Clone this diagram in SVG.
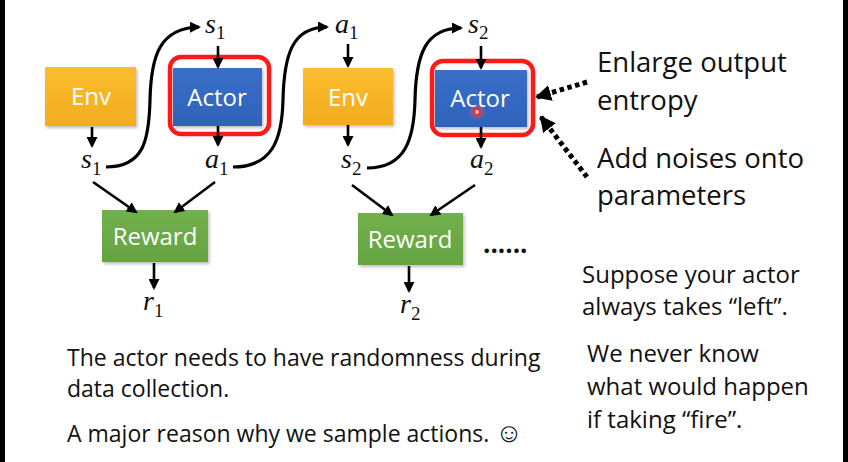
<svg xmlns="http://www.w3.org/2000/svg" width="848" height="462" viewBox="0 0 848 462">
<style>
.box{stroke:none}
.lbl{font-family:"Open Sans","Noto Sans",sans-serif;font-size:24px;fill:#ffffff;text-anchor:middle}
.math{font-family:"Liberation Serif","DejaVu Serif",serif;font-style:italic;font-size:28px;fill:#111}
.sub{font-style:normal;font-size:19px}
.txt{font-family:"Open Sans","Noto Sans",sans-serif;fill:#111}
.big{font-size:27.5px}
.mid{font-size:24px}
.sm{font-size:23px}
.ln{fill:none;stroke:#000;stroke-width:2.6;marker-end:url(#ah)}
.cv{fill:none;stroke:#000;stroke-width:3.2;marker-end:url(#ah)}
.dt{fill:none;stroke:#000;stroke-width:5;stroke-dasharray:4.5 3.5;marker-end:url(#dh)}
.red{fill:none;stroke:#ff1a1a;stroke-width:4.5}
</style>
<defs>
<marker id="ah" markerUnits="userSpaceOnUse" markerWidth="11" markerHeight="11" refX="9" refY="5.5" orient="auto">
<path d="M0,0 L11,5.5 L0,11 z" fill="#000"/>
</marker>
<marker id="dh" markerUnits="userSpaceOnUse" markerWidth="16" markerHeight="16" refX="14" refY="8" orient="auto">
<path d="M0,0 L16,8 L0,16 z" fill="#000"/>
</marker>
<linearGradient id="gEnv" x1="0" y1="0" x2="0" y2="1">
<stop offset="0" stop-color="#fbbe30"/><stop offset="1" stop-color="#f3ab1d"/>
</linearGradient>
<linearGradient id="gAct" x1="0" y1="0" x2="0" y2="1">
<stop offset="0" stop-color="#3a6fc6"/><stop offset="1" stop-color="#2f62bb"/>
</linearGradient>
<linearGradient id="gRew" x1="0" y1="0" x2="0" y2="1">
<stop offset="0" stop-color="#72b04c"/><stop offset="1" stop-color="#66a442"/>
</linearGradient>
<radialGradient id="glow">
<stop offset="0" stop-color="#ff3030" stop-opacity="0.8"/><stop offset="1" stop-color="#ff6060" stop-opacity="0"/>
</radialGradient>
<filter id="sh" x="-10%" y="-10%" width="125%" height="130%">
<feDropShadow dx="1.5" dy="2" stdDeviation="1.5" flood-color="#000" flood-opacity="0.25"/>
</filter>
</defs>
<rect width="848" height="462" fill="#ffffff"/>
<rect x="0" y="0" width="5" height="462" fill="#000"/>
<rect x="843" y="0" width="5" height="462" fill="#000"/>

<g id="env1"><rect class="box" x="45" y="67" width="91" height="59" fill="url(#gEnv)" filter="url(#sh)"/><text class="lbl" x="91" y="105">Env</text></g>
<g id="actor1"><rect class="box" x="173" y="68" width="89" height="58" fill="url(#gAct)" filter="url(#sh)"/><text class="lbl" x="217" y="106">Actor</text><rect class="red" x="170" y="57" width="99" height="77" rx="11"/></g>
<g id="env2"><rect class="box" x="303" y="68" width="90" height="57" fill="url(#gEnv)" filter="url(#sh)"/><text class="lbl" x="348" y="106">Env</text></g>
<g id="actor2"><rect class="box" x="435" y="70" width="92" height="57" fill="url(#gAct)" filter="url(#sh)"/><text class="lbl" x="480" y="107">Actor</text><rect class="red" x="432" y="61" width="101" height="74" rx="11"/>
<circle cx="477" cy="112" r="9" fill="url(#glow)"/><circle cx="477" cy="112" r="3" fill="#ffb0b0" stroke="#ff2020" stroke-width="1.6"/></g>
<g id="reward1"><rect class="box" x="102" y="210" width="106" height="52" fill="url(#gRew)" filter="url(#sh)"/><text class="lbl" x="155" y="245">Reward</text></g>
<g id="reward2"><rect class="box" x="358" y="213" width="105" height="52" fill="url(#gRew)" filter="url(#sh)"/><text class="lbl" x="410" y="248">Reward</text></g>

<g id="labels">
<text class="math" x="205" y="33">s<tspan class="sub" dy="6">1</tspan></text>
<text class="math" x="81" y="168">s<tspan class="sub" dy="7">1</tspan></text>
<text class="math" x="205" y="168">a<tspan class="sub" dy="7">1</tspan></text>
<text class="math" x="335" y="33">a<tspan class="sub" dy="6">1</tspan></text>
<text class="math" x="341" y="168">s<tspan class="sub" dy="7">2</tspan></text>
<text class="math" x="468" y="33">s<tspan class="sub" dy="6">2</tspan></text>
<text class="math" x="470" y="168">a<tspan class="sub" dy="7">2</tspan></text>
<text class="math" x="143" y="310">r<tspan class="sub" dy="7">1</tspan></text>
<text class="math" x="400" y="313">r<tspan class="sub" dy="7">2</tspan></text>
</g>

<g id="connectors">
<line class="ln" x1="92" y1="127" x2="92" y2="146"/>
<line class="ln" x1="218" y1="46" x2="218" y2="67"/>
<line class="ln" x1="218" y1="126" x2="218" y2="145"/>
<line class="ln" x1="348" y1="44" x2="348" y2="66"/>
<line class="ln" x1="348" y1="125" x2="348" y2="145"/>
<line class="ln" x1="481" y1="46" x2="481" y2="68"/>
<line class="ln" x1="481" y1="127" x2="481" y2="147"/>
<line class="ln" x1="154" y1="263" x2="154" y2="288"/>
<line class="ln" x1="409" y1="266" x2="409" y2="291"/>
<line class="ln" x1="93" y1="182" x2="136" y2="212"/>
<line class="ln" x1="215" y1="182" x2="175" y2="212"/>
<line class="ln" x1="352" y1="185" x2="392" y2="215"/>
<line class="ln" x1="475" y1="185" x2="431" y2="215"/>
<path class="cv" d="M106,167 C144,167 149,140 150,100 C151,55 160,28 199,27"/>
<path class="cv" d="M233,167 C272,167 282,140 283,100 C284,55 292,27 327,27"/>
<path class="cv" d="M367,168 C405,168 414,140 415,100 C416,55 425,28 461,28"/>
<line class="dt" x1="587" y1="82" x2="537" y2="97"/>
<line class="dt" x1="587" y1="177" x2="541" y2="117"/>
</g>

<g id="texts">
<text class="txt big" x="597" y="72">Enlarge output</text>
<text class="txt big" x="597" y="110">entropy</text>
<text class="txt big" x="597" y="168">Add noises onto</text>
<text class="txt big" x="597" y="205">parameters</text>
<text class="txt" x="483" y="253" font-size="26" font-weight="bold">......</text>
<text class="txt mid" x="582" y="283">Suppose your actor</text>
<text class="txt mid" x="582" y="315">always takes “left”.</text>
<text class="txt mid" x="587" y="362">We never know</text>
<text class="txt mid" x="587" y="395">what would happen</text>
<text class="txt mid" x="587" y="428">if taking “fire”.</text>
<text class="txt sm" x="67" y="366">The actor needs to have randomness during</text>
<text class="txt sm" x="67" y="397">data collection.</text>
<text class="txt sm" x="67" y="442">A major reason why we sample actions. <tspan font-size="27">☺</tspan></text>
</g>
</svg>
